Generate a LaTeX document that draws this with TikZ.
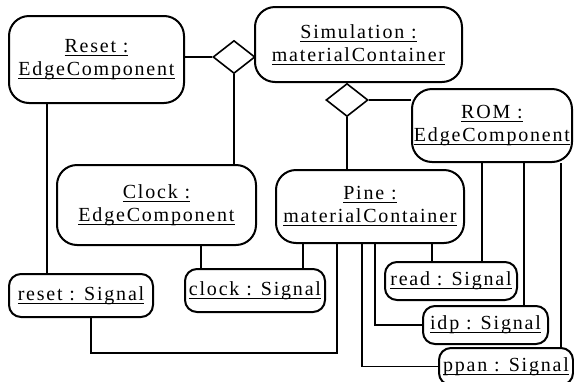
\documentclass[tikz,border=0pt]{standalone}
\usepackage{fontspec}
\setmainfont{Liberation Serif}[LetterSpace=9]
\usetikzlibrary{positioning,shapes.geometric}
\newcommand{\uname}[1]{\setbox0\hbox{#1}\rlap{\rule[-3.5pt]{\wd0}{1.1pt}}\box0}
\tikzset{
  fx/.style={x=1pt, y=-1pt, font=\fontsize{20}{23}\selectfont},
  o obj/.style={draw, line width=2pt, rounded corners=20pt, align=center, inner sep=0pt},
  o sig/.style={draw, line width=2pt, rounded corners=12pt, align=center, inner sep=0pt},
  o agg/.style={draw, diamond, line width=1.6pt, minimum width=42pt, minimum height=33pt, inner sep=0pt},
  o lnk/.style={line width=1.5pt},
}

\begin{document}
\begin{tikzpicture}[fx]
\useasboundingbox (0,0) rectangle (574,381);
\node[o obj, minimum width=175pt, minimum height=87pt] (reset) at (96.5,59.5) {\uname{Reset :}\\\uname{EdgeComponent}};
\node[o obj, minimum width=207pt, minimum height=75pt] (sim) at (358.5,44.5) {\uname{Simulation :}\\\uname{materialContainer}};
\node[o obj, minimum width=160pt, minimum height=73pt] (rom) at (492,125.5) {\uname{ROM :}\\\uname{EdgeComponent}};
\node[o obj, minimum width=199pt, minimum height=80pt] (clock) at (156.5,205) {\uname{Clock :}\\\uname{EdgeComponent}};
\node[o obj, minimum width=188pt, minimum height=73pt] (pine) at (370,206.5) {\uname{Pine :}\\\uname{materialContainer}};
\node[o agg] (d1) at (234,57) {};
\node[o agg] (d2) at (347,100) {};
% signals
\node[o sig, minimum width=144pt, minimum height=43pt] (s reset) at (81,295.5) {\uname{reset : Signal}};
\node[o sig, minimum width=140pt, minimum height=43pt] (s clock) at (255,290.5) {\uname{clock : Signal}};
\node[o sig, minimum width=132pt, minimum height=38pt] (s read) at (451,281) {\uname{read : Signal}};
\node[o sig, minimum width=125pt, minimum height=38pt] (s idp) at (485.5,325) {\uname{idp : Signal}};
\node[o sig, minimum width=134pt, minimum height=37pt] (s ppan) at (506,366.5) {\uname{ppan : Signal}};
% aggregation
\draw[o lnk] (reset.east |- d1) -- (d1.west); \draw[o lnk] (d1.south) -- (clock.north -| d1);
\draw[o lnk] (d2.east) -- (rom.west |- d2); \draw[o lnk] (d2.south) -- (pine.north -| d2);
% wiring
\draw[o lnk] (reset.south -| 47,0) -- (s reset.north -| 47,0);
\draw[o lnk] (s reset.south -| 91,0) -- ++(0,35) -| (pine.south -| 337,0);
\draw[o lnk] (clock.south -| 201,0) -- (s clock.north -| 201,0);
\draw[o lnk] (pine.south -| 303,0) -- (s clock.north -| 303,0);
\draw[o lnk] (pine.south -| 432,0) -- (s read.north -| 432,0);
\draw[o lnk] (rom.south -| 482,0) -- (s read.north -| 482,0);
\draw[o lnk] (rom.south -| 524,0) -- (s idp.north -| 524,0);
\draw[o lnk] (rom.south -| 561,0) -- (s ppan.north -| 561,0);
\draw[o lnk] (pine.south -| 375,0) |- (s idp.west);
\draw[o lnk] (pine.south -| 362,0) |- (s ppan.west);
\end{tikzpicture}
\end{document}
